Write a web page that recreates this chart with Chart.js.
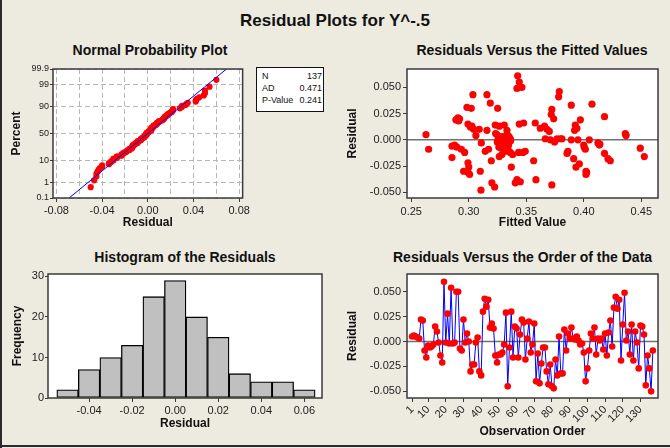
<!DOCTYPE html>
<html><head><meta charset="utf-8">
<script src="https://cdn.jsdelivr.net/npm/chart.js@4.4.1/dist/chart.umd.min.js"></script>
<style>
html,body{margin:0;padding:0;}
body{width:670px;height:448px;background:#EDEADF;position:relative;overflow:hidden;font-family:"Liberation Sans",Arial,sans-serif;}
.t{position:absolute;font-weight:bold;color:#111;white-space:nowrap;font-size:14px;line-height:16px;}
canvas{position:absolute;}
#stats{position:absolute;left:256px;top:67px;width:66px;height:41px;border:1px solid #111;background:#fff;font-size:9px;line-height:12px;color:#111;padding-top:2px;box-sizing:content-box;}
#stats div{position:relative;height:12px;}
#stats .l{position:absolute;left:5px;}
#stats .r{position:absolute;right:1px;}
</style></head><body>
<div style="position:absolute;left:0;top:0;width:2px;height:448px;background:#2a2a2a"></div>
<div style="position:absolute;left:0;top:445px;width:670px;height:2px;background:#2a2a2a"></div>
<div class="t" style="left:0;width:670px;text-align:center;top:11px;font-size:17px;line-height:20px;">Residual Plots for Y^-.5</div>
<div class="t" style="left:50px;width:200px;text-align:center;top:42px;">Normal Probability Plot</div>
<div class="t" style="left:382px;width:300px;text-align:center;top:42px;">Residuals Versus the Fitted Values</div>
<div class="t" style="left:35px;width:300px;text-align:center;top:249px;">Histogram of the Residuals</div>
<div class="t" style="left:393px;top:249px;">Residuals Versus the Order of the Data</div>
<div id="stats"></div>
<canvas id="c1" width="252" height="175" style="left:0;top:60px"></canvas>
<canvas id="c2" width="325" height="175" style="left:340px;top:60px"></canvas>
<canvas id="c3" width="330" height="175" style="left:0;top:265px"></canvas>
<canvas id="c4" width="325" height="180" style="left:340px;top:265px"></canvas>
<script>
// ---------------- DATA ----------------
const residualsByOrder = [
0.005,0.006,0.005,0.004,0.003,0.022,0.021,-0.009,-0.016,-0.004,
-0.006,-0.005,-0.003,0.015,0.010,-0.001,-0.014,-0.021,0.060,-0.001,
0.028,-0.002,0.054,-0.002,-0.001,0.050,0.050,-0.007,-0.009,0.022,
-0.001,0.008,0.000,-0.030,-0.023,-0.023,-0.001,0.004,-0.030,-0.034,
0.030,0.043,0.035,0.042,0.014,0.018,0.013,-0.014,-0.021,-0.013,
-0.013,-0.011,-0.003,0.029,-0.045,-0.006,0.030,-0.016,0.015,0.013,
-0.016,0.007,0.022,0.019,-0.018,0.003,0.020,-0.011,-0.003,0.018,
-0.040,-0.012,-0.042,-0.022,-0.006,-0.006,-0.030,-0.043,-0.023,-0.045,
-0.047,-0.018,-0.034,0.005,-0.032,-0.032,0.012,-0.009,0.008,0.003,
0.014,0.003,0.002,0.005,0.001,-0.003,-0.002,-0.011,-0.040,-0.027,
-0.009,0.008,0.003,0.014,-0.013,0.003,0.001,0.003,-0.008,0.008,
-0.014,0.009,0.021,-0.005,0.034,0.045,0.033,0.042,-0.019,0.017,
0.049,0.001,0.010,-0.013,0.017,-0.019,0.010,-0.001,-0.027,0.016,
0.015,0.007,-0.044,-0.014,-0.027,-0.050,-0.009];

const fittedValues = [
0.2628,0.2651,0.2854,0.2854,0.2877,0.2888,0.2906,0.2920,0.2897,0.2935,
0.2964,0.2955,0.2984,0.2993,0.2993,0.3000,0.2993,0.3007,0.3022,0.3028,
0.3036,0.3042,0.3062,0.3091,0.3100,0.3109,0.3106,0.3143,0.3158,0.3158,
0.3172,0.3187,0.3196,0.3201,0.3225,0.3230,0.3251,0.3245,0.3254,0.3265,
0.3265,0.3274,0.3283,0.3288,0.3293,0.3303,0.3309,0.3317,0.3323,0.3332,
0.3341,0.3352,0.3361,0.3361,0.3370,0.3381,0.3404,0.3419,0.3419,0.3425,
0.3439,0.3439,0.3433,0.3448,0.3462,0.3471,0.3477,0.3491,0.3564,0.3578,
0.3584,0.3622,0.3659,0.3665,0.3680,0.3700,0.3709,0.3717,0.3722,0.3738,
0.3722,0.3746,0.3767,0.3787,0.3781,0.3796,0.3810,0.3854,0.3862,0.3891,
0.3891,0.3912,0.3920,0.3926,0.3932,0.3940,0.3949,0.3961,0.3970,0.3999,
0.4004,0.4013,0.4019,0.4019,0.4048,0.4071,0.4123,0.4135,0.4180,0.4180,
0.4210,0.4230,0.4361,0.4367,0.4491,0.4526,
0.3288,0.3332,0.3346,
0.3233,0.3262,0.3277,0.3291,0.3320,0.3335,0.3350,0.3364,0.3335,0.3320,0.3262,0.3248,0.3306,
0.2912,0.3015,0.4025,0.4140,0.4365];
const residualsVsFit = [
0.005,-0.009,-0.006,-0.017,-0.005,0.019,0.021,0.020,-0.007,-0.009,
-0.012,-0.030,0.031,0.015,-0.022,-0.026,-0.031,-0.033,0.030,0.013,
0.043,0.010,0.004,0.010,-0.030,-0.003,-0.048,-0.011,0.043,0.009,
-0.009,0.035,-0.020,-0.041,-0.045,0.014,0.030,0.005,0.000,0.013,
-0.016,0.001,-0.008,-0.014,0.003,-0.002,0.014,-0.007,0.004,-0.003,
-0.009,0.000,0.001,-0.012,-0.026,-0.014,-0.041,-0.038,0.049,0.061,
0.055,0.015,-0.012,-0.040,0.050,-0.012,0.016,-0.011,-0.020,0.016,
-0.038,0.011,0.013,0.001,0.010,0.008,0.000,0.024,0.029,0.020,
-0.043,-0.002,0.001,0.046,0.041,0.001,0.001,-0.013,-0.011,0.033,
0.000,-0.018,0.009,0.014,-0.026,0.011,0.000,-0.023,0.019,-0.005,
-0.007,-0.009,-0.030,-0.033,0.000,0.034,-0.003,-0.005,0.022,-0.013,
-0.018,-0.020,0.006,0.004,-0.008,-0.016,
0.000,0.009,-0.005,
0.006,0.003,0.000,-0.005,-0.007,0.005,0.003,-0.001,-0.008,-0.011,-0.007,-0.002,0.001,
0.018,0.012,-0.031,-0.004,0.005];

const histBinCenters = [-0.05,-0.04,-0.03,-0.02,-0.01,0.00,0.01,0.02,0.03,0.04,0.05,0.06];
const histCounts     = [2,7,10,13,25,29,20,15,6,4,4,2];

const probXTicks = [-0.08,-0.06,-0.04,-0.02,0,0.02,0.04,0.06,0.08];
const probXLabeled = [-0.08,-0.04,0,0.04,0.08];
const probYPercents = [0.1,1,10,50,90,99,99.9];
const probYLabels = ['0.1','1','10','50','90','99','99.9'];
const fitLineResidual = [-0.0689,0.0689];
const fitLinePercent = [0.1,99.9];

const fittedXTicks = [0.25,0.30,0.35,0.40,0.45];
const residualYTicks = [-0.050,-0.025,0.000,0.025,0.050];
const histXTicks = [-0.04,-0.02,0.00,0.02,0.04,0.06];
const histYTicks = [0,10,20,30];
const orderXTicks = [1,10,20,30,40,50,60,70,80,90,100,110,120,130];

const statLabels = ['N','AD','P-Value'];
const statValues = ['137','0.471','0.241'];

// ---------------- HELPERS ----------------
function invNorm(p){
  const a=[-3.969683028665376e+01,2.209460984245205e+02,-2.759285104469687e+02,1.383577518672690e+02,-3.066479806614716e+01,2.506628277459239e+00];
  const b=[-5.447609879822406e+01,1.615858368580409e+02,-1.556989798598866e+02,6.680131188771972e+01,-1.328068155288572e+01];
  const c=[-7.784894002430293e-03,-3.223964580411365e-01,-2.400758277161838e+00,-2.549671010228524e+00,4.374664141464968e+00,2.938163982698783e+00];
  const d=[7.784695709041462e-03,3.224671290700398e-01,2.445134137142996e+00,3.754408661907416e+00];
  const pl=0.02425, ph=1-pl; let q,r;
  if(p<pl){q=Math.sqrt(-2*Math.log(p));return (((((c[0]*q+c[1])*q+c[2])*q+c[3])*q+c[4])*q+c[5])/((((d[0]*q+d[1])*q+d[2])*q+d[3])*q+1);}
  if(p<=ph){q=p-0.5;r=q*q;return (((((a[0]*r+a[1])*r+a[2])*r+a[3])*r+a[4])*r+a[5])*q/(((((b[0]*r+b[1])*r+b[2])*r+b[3])*r+b[4])*r+1);}
  q=Math.sqrt(-2*Math.log(1-p));return -(((((c[0]*q+c[1])*q+c[2])*q+c[3])*q+c[4])*q+c[5])/((((d[0]*q+d[1])*q+d[2])*q+d[3])*q+1);
}
const zOf = pct => invNorm(pct/100);

// stats box
const sb=document.getElementById('stats');
statLabels.forEach((l,i)=>{const r=document.createElement('div');r.innerHTML='<span class="l">'+l+'</span><span class="r">'+statValues[i]+'</span>';sb.appendChild(r);});

const FAM='"Liberation Sans", Arial, sans-serif';
const TICKF={family:FAM,size:11};
const TITF={family:FAM,size:12,weight:'bold',lineHeight:1.2};
const AX='#3a3a3a';
const TXT='#222';

const framePlugin={
  id:'frame',
  beforeDraw(chart){const {ctx,chartArea:ca}=chart;ctx.save();ctx.fillStyle='#fff';ctx.fillRect(ca.left,ca.top,ca.right-ca.left,ca.bottom-ca.top);ctx.restore();},
  beforeDatasetsDraw(chart,args,o){
    if(o&&o.zero){const {ctx,chartArea:ca}=chart;const y=chart.scales.y.getPixelForValue(0);
      ctx.save();ctx.strokeStyle='#707070';ctx.lineWidth=1.5;ctx.beginPath();ctx.moveTo(ca.left,y);ctx.lineTo(ca.right,y);ctx.stroke();ctx.restore();}
  },
  afterDraw(chart){const {ctx,chartArea:ca}=chart;ctx.save();ctx.strokeStyle=AX;ctx.lineWidth=1.5;ctx.strokeRect(ca.left,ca.top,ca.right-ca.left,ca.bottom-ca.top);ctx.restore();}
};
function setTicks(arr){return s=>{s.ticks=arr.map(v=>({value:v}));};}
function common(padTop,padRight){
  return {responsive:false,animation:false,devicePixelRatio:1,
    layout:{padding:{top:padTop,right:padRight,left:0,bottom:0}},
    plugins:{legend:{display:false},tooltip:{enabled:false}}};
}
function xAxis(o){
  return Object.assign({type:'linear',offset:false,border:{display:false},
    grid:{drawOnChartArea:false,drawTicks:true,tickLength:4,color:AX,tickColor:AX,offset:false},
    ticks:{font:TICKF,color:TXT,autoSkip:false,maxRotation:0,minRotation:0,padding:2},
  },o);
}
function yAxis(o){
  return Object.assign({type:'linear',border:{display:false},
    grid:{drawOnChartArea:false,drawTicks:true,tickLength:4,color:AX,tickColor:AX},
    ticks:{font:TICKF,color:TXT,autoSkip:false,padding:2},
  },o);
}

// ---------------- 1. Normal probability plot ----------------
const sorted=residualsByOrder.slice().sort((a,b)=>a-b);
const nObs=sorted.length;
const probPts=sorted.map((v,i)=>({x:v,y:zOf(100*(i+1-0.3)/(nObs+0.4))}));
const fitPts=fitLineResidual.map((v,i)=>({x:v,y:zOf(fitLinePercent[i])}));
const o1=common(9,5);
o1.scales={
  x:xAxis({min:-0.083,max:0.083,afterBuildTicks:setTicks(probXTicks),afterFit:s=>{s.height=37;},
    grid:{drawOnChartArea:true,drawTicks:true,tickLength:4,color:'#b8b8b8',lineWidth:1,
      tickColor:c=>probXLabeled.some(v=>Math.abs(v-c.tick.value)<1e-9)?AX:'rgba(0,0,0,0)'},
    border:{display:false,dash:[5,3]},
    ticks:{font:TICKF,color:TXT,autoSkip:false,maxRotation:0,minRotation:0,padding:2,
      callback:v=>probXLabeled.some(w=>Math.abs(w-v)<1e-9)?v.toFixed(2):''},
    title:{display:true,text:'Residual',font:TITF,color:'#111',padding:{top:0,bottom:4.8}}}),
  y:yAxis({min:zOf(0.1),max:zOf(99.9),afterBuildTicks:setTicks(probYPercents.map(zOf)),afterFit:s=>{s.width=53;},
    grid:{drawOnChartArea:true,drawTicks:true,tickLength:3,color:'#b8b8b8',tickColor:AX},
    border:{display:false,dash:[5,3]},
    ticks:{font:{family:FAM,size:9},color:TXT,autoSkip:false,padding:1,callback:(v,i)=>probYLabels[i]},
    title:{display:true,text:'Percent',font:TITF,color:'#111',padding:{top:9.5,bottom:0}}})
};
new Chart(document.getElementById('c1'),{type:'scatter',plugins:[framePlugin],
  data:{datasets:[
    {type:'line',data:fitPts,borderColor:'#0000ff',borderWidth:1,pointRadius:0,fill:false},
    {data:probPts,backgroundColor:'#ff0000',borderWidth:0,pointRadius:3.1}
  ]},options:o1});

// ---------------- 2. Residuals vs fitted ----------------
const o2=common(9,7);
o2.plugins.frame={zero:true};
o2.scales={
  x:xAxis({min:0.2463,max:0.4645,afterBuildTicks:setTicks(fittedXTicks),afterFit:s=>{s.height=37;},
    ticks:{font:TICKF,color:TXT,autoSkip:false,maxRotation:0,minRotation:0,padding:3,callback:v=>v.toFixed(2)},
    title:{display:true,text:'Fitted Value',font:TITF,color:'#111',padding:{top:0,bottom:5.1}}}),
  y:yAxis({min:-0.0555,max:0.0675,afterBuildTicks:setTicks(residualYTicks),afterFit:s=>{s.width=67;},
    ticks:{font:TICKF,color:TXT,autoSkip:false,padding:2,callback:v=>v.toFixed(3)},
    title:{display:true,text:'Residual',font:TITF,color:'#111',padding:{top:5.1,bottom:0}}})
};
new Chart(document.getElementById('c2'),{type:'scatter',plugins:[framePlugin],
  data:{datasets:[{data:fittedValues.map((f,i)=>({x:f,y:residualsVsFit[i]})),backgroundColor:'#ff0000',borderWidth:0,pointRadius:3.6}]},
  options:o2});

// ---------------- 3. Histogram ----------------
const o3=common(9,8);
o3.scales={
  x:xAxis({min:-0.0591,max:0.0682,afterBuildTicks:setTicks(histXTicks),afterFit:s=>{s.height=42;},
    ticks:{font:TICKF,color:TXT,autoSkip:false,maxRotation:0,minRotation:0,padding:2,callback:v=>v.toFixed(2)},
    title:{display:true,text:'Residual',font:TITF,color:'#111',padding:{top:0,bottom:8.8}}}),
  y:yAxis({min:0,max:30.6,afterBuildTicks:setTicks(histYTicks),afterFit:s=>{s.width=48;},
    grid:{drawOnChartArea:false,drawTicks:true,tickLength:3,color:AX,tickColor:AX},
    ticks:{font:TICKF,color:TXT,autoSkip:false,padding:1,callback:v=>String(v)},
    title:{display:true,text:'Frequency',font:TITF,color:'#111',padding:{top:10.8,bottom:0}}})
};
new Chart(document.getElementById('c3'),{type:'bar',plugins:[framePlugin],
  data:{datasets:[{data:histBinCenters.map((c,i)=>({x:c,y:histCounts[i]})),backgroundColor:'#c0c0c0',borderColor:'#000',borderWidth:1.3,borderSkipped:false,barPercentage:1,categoryPercentage:1}]},
  options:o3});

// ---------------- 4. Residuals vs order ----------------
const o4=common(9,7);
o4.plugins.frame={zero:true};
o4.scales={
  x:xAxis({min:-1.9,max:139.9,afterBuildTicks:setTicks(orderXTicks),afterFit:s=>{s.height=47;},
    ticks:{font:TICKF,color:TXT,autoSkip:false,maxRotation:45,minRotation:45,padding:1,callback:v=>String(v)},
    title:{display:true,text:'Observation Order',font:TITF,color:'#111',padding:{top:0,bottom:6.1}}}),
  y:yAxis({min:-0.0567,max:0.0678,afterBuildTicks:setTicks(residualYTicks),afterFit:s=>{s.width=67;},
    ticks:{font:TICKF,color:TXT,autoSkip:false,padding:2,callback:v=>v.toFixed(3)},
    title:{display:true,text:'Residual',font:TITF,color:'#111',padding:{top:5.8,bottom:0}}})
};
new Chart(document.getElementById('c4'),{type:'line',plugins:[framePlugin],
  data:{datasets:[{data:residualsByOrder.map((v,i)=>({x:i+1,y:v})),borderColor:'#0000ff',borderWidth:1,
    pointRadius:3.3,pointBackgroundColor:'#ff0000',pointBorderWidth:0,pointBorderColor:'#ff0000',fill:false,tension:0}]},
  options:o4});
</script>
</body></html>
